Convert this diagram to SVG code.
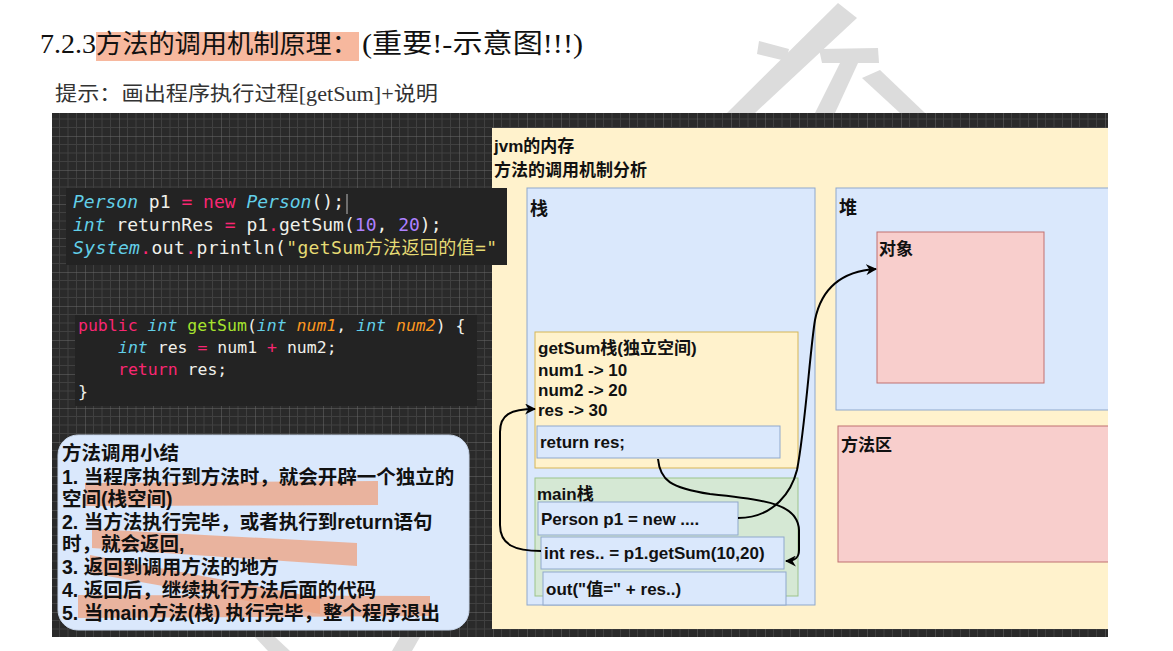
<svg xmlns="http://www.w3.org/2000/svg" width="1173" height="651" viewBox="0 0 1173 651">
<defs>
<style>
.mono{font-family:"DejaVu Sans Mono","Liberation Mono","Noto Sans CJK SC",monospace;}
.w{fill:#f0f0ea}.pk{fill:#f92672}.cy{fill:#62cfe8;font-style:italic}.pu{fill:#ae81ff}.ye{fill:#e6db74}.gr{fill:#a6e22e}.or{fill:#fd971f;font-style:italic}
.lbl{font-family:"Liberation Sans","Noto Sans CJK SC",sans-serif;font-weight:bold;font-size:17px;fill:#111}
.big{font-size:18px}
.sum{font-family:"Liberation Sans","Noto Sans CJK SC",sans-serif;font-weight:bold;font-size:19.5px;fill:#111}
.blue{fill:#dae8fc;stroke:#8fa8cc;stroke-width:1}
.yel{fill:#fff2cc;stroke:#d6b656;stroke-width:1}
.grn{fill:#d5e8d4;stroke:#9cc38a;stroke-width:1}
.red{fill:#f8cecc;stroke:#c07070;stroke-width:1}
.hl{fill:#eea27f;opacity:0.75}
.wm{fill:#dcdcdc}
.edge{fill:none;stroke:#000;stroke-width:2}
</style>
<pattern id="grid" patternUnits="userSpaceOnUse" x="17" y="0" width="34" height="34">
<rect width="34" height="34" fill="#2a2a2a"/>
<path d="M8.5 0V34M17 0V34M25.5 0V34M0 8.5H34M0 17H34M0 25.5H34" stroke="#404040" stroke-width="1"/>
<path d="M0 0V34M0 0H34" stroke="#6a6a6a" stroke-width="1"/>
</pattern>
<clipPath id="clip"><rect x="52" y="113" width="1056" height="524"/></clipPath>
<marker id="arr" viewBox="0 0 10 10" refX="9" refY="5" markerWidth="11" markerHeight="11" markerUnits="userSpaceOnUse" orient="auto">
<path d="M0,0 L10,5 L0,10 L3,5 Z" fill="#000"/>
</marker>
</defs>
<rect width="1173" height="651" fill="#fff"/>
<g id="watermark">
<polygon class="wm" points="838,3 857,18 755,113 727,113"/>
<polygon class="wm" points="759,41 789,49 786,61 757,54"/>
<polygon class="wm" points="819,49 878,48 879,63 822,63"/>
<polygon class="wm" points="840,63 858,63 835,113 815,113"/>
<polygon class="wm" points="862,78 880,70 925,113 900,113"/>
<polygon class="wm" points="255,637 275,637 290,651 268,651"/>
<polygon class="wm" points="400,637 420,637 412,651 392,651"/>
</g>
<g id="title">
<rect x="96" y="32" width="263" height="29" fill="#f7b89e"/>
<text x="40" y="53" font-family="Liberation Serif" font-size="28" fill="#111">7.2.3</text>
<text x="96" y="53" font-family="Noto Sans CJK SC,sans-serif" font-size="26" fill="#111" textLength="262" lengthAdjust="spacingAndGlyphs">方法的调用机制原理：</text>
<text x="362" y="53" font-family="Liberation Serif,Noto Sans CJK SC,serif" font-size="27" fill="#111" textLength="221" lengthAdjust="spacingAndGlyphs">(重要!-示意图!!!)</text>
<text x="55" y="101" font-family="Liberation Serif,Noto Sans CJK SC,serif" font-size="20" fill="#333" textLength="383" lengthAdjust="spacingAndGlyphs">提示：画出程序执行过程[getSum]+说明</text>
</g>
<g clip-path="url(#clip)">
<rect id="bg" x="52" y="113" width="1056" height="524" fill="url(#grid)"/>
<g id="jvm">
<rect x="492" y="128" width="630" height="501" fill="#fff2cc"/>
<text class="lbl" x="494" y="152">jvm的内存</text>
<text class="lbl" x="494" y="176">方法的调用机制分析</text>
</g>
<g id="stack">
<rect class="blue" x="527" y="188" width="288" height="417"/>
<text class="lbl big" x="530" y="215">栈</text>
</g>
<g id="heap">
<rect class="blue" x="836" y="188" width="290" height="222"/>
<text class="lbl big" x="839" y="214">堆</text>
</g>
<g id="object">
<rect class="red" x="877" y="232" width="167" height="151"/>
<text class="lbl" x="879" y="255" font-size="16">对象</text>
</g>
<g id="method-area">
<rect class="red" x="838" y="426" width="290" height="136"/>
<text class="lbl" x="841" y="451" font-size="19">方法区</text>
</g>
<g id="getsum-stack">
<rect class="yel" x="535" y="332" width="263" height="136"/>
<text class="lbl" x="538" y="354">getSum栈(独立空间)</text>
<text class="lbl" x="538" y="376">num1 -&gt; 10</text>
<text class="lbl" x="538" y="396">num2 -&gt; 20</text>
<text class="lbl" x="538" y="416">res -&gt; 30</text>
</g>
<g id="return-res">
<rect class="blue" x="537" y="426" width="243" height="32"/>
<text class="lbl" x="540" y="448">return res;</text>
</g>
<g id="main-stack">
<rect class="grn" x="535" y="478" width="263" height="118"/>
<text class="lbl" x="537" y="500">main栈</text>
</g>
<g id="person-p1">
<rect class="blue" x="538" y="502" width="200" height="33"/>
<text class="lbl" x="541" y="525">Person p1 = new ....</text>
</g>
<g id="int-res">
<rect class="blue" x="541" y="537" width="243" height="32"/>
<text class="lbl" x="544" y="559">int res.. = p1.getSum(10,20)</text>
</g>
<g id="out">
<rect class="blue" x="543" y="572" width="243" height="33"/>
<text class="lbl" x="546" y="595">out("值=" + res..)</text>
</g>
<g id="connectors">
<path class="edge" d="M541,551 C515,551 500,545 500,525 L500,432 C500,415 510,409 535,409" marker-end="url(#arr)"/>
<path class="edge" d="M658,459 C660,480 670,488 710,494 C770,500 798,505 799,530 L799,550 C799,558 795,561 786,561" marker-end="url(#arr)"/>
<path class="edge" d="M738,518 C775,518 792,490 797,470 C805,430 810,350 815,320 C822,285 845,271 876,269" marker-end="url(#arr)"/>
</g>
<g id="code-main">
<rect x="66" y="188" width="441" height="77" fill="#232323"/>
<text class="mono w" x="73" y="208" font-size="18"><tspan class="cy">Person</tspan> p1 <tspan class="pk">=</tspan> <tspan class="pk">new</tspan> <tspan class="cy">Person</tspan>();</text>
<line x1="347" y1="194" x2="347" y2="214" stroke="#bbb" stroke-width="1"/>
<text class="mono w" x="73" y="231" font-size="18"><tspan class="cy">int</tspan> returnRes <tspan class="pk">=</tspan> p1<tspan class="pk">.</tspan>getSum(<tspan class="pu">10</tspan>, <tspan class="pu">20</tspan>);</text>
<text class="mono w" x="73" y="254" font-size="18" textLength="424" lengthAdjust="spacing"><tspan class="cy">System</tspan><tspan class="pk">.</tspan>out<tspan class="pk">.</tspan>println(<tspan class="ye">"getSum方法返回的值="</tspan></text>
</g>
<g id="code-getsum">
<rect x="75" y="315" width="402" height="91" fill="#232323"/>
<text class="mono w" x="78" y="331" font-size="16.5"><tspan class="pk">public</tspan> <tspan class="cy">int</tspan> <tspan class="gr">getSum</tspan>(<tspan class="cy">int</tspan> <tspan class="or">num1</tspan>, <tspan class="cy">int</tspan> <tspan class="or">num2</tspan>) {</text>
<text class="mono w" x="118" y="353" font-size="16.5"><tspan class="cy">int</tspan> res <tspan class="pk">=</tspan> num1 <tspan class="pk">+</tspan> num2;</text>
<text class="mono w" x="118" y="375" font-size="16.5"><tspan class="pk">return</tspan> res;</text>
<text class="mono w" x="78" y="397" font-size="16.5">}</text>
</g>
<g id="summary">
<rect x="58" y="435" width="411" height="195" rx="20" fill="#dae8fc" stroke="#c8d6ea"/>
<polygon class="hl" points="85,483 378,481 378,505 85,506"/>
<polygon class="hl" points="92,529 357,543 357,566 92,548"/>
<polygon class="hl" points="90,555 320,598 320,614 90,573"/>
<polygon class="hl" points="78,595 430,596 430,616 78,618"/>
<text class="sum" x="62" y="460">方法调用小结</text>
<text class="sum" x="62" y="484">1. 当程序执行到方法时，就会开辟一个独立的</text>
<text class="sum" x="62" y="506">空间(栈空间)</text>
<text class="sum" x="62" y="529">2. 当方法执行完毕，或者执行到return语句</text>
<text class="sum" x="62" y="551">时，就会返回,</text>
<text class="sum" x="62" y="574">3. 返回到调用方法的地方</text>
<text class="sum" x="62" y="597">4. 返回后，继续执行方法后面的代码</text>
<text class="sum" x="62" y="620">5. 当main方法(栈) 执行完毕，整个程序退出</text>
</g>
</g>
</svg>
